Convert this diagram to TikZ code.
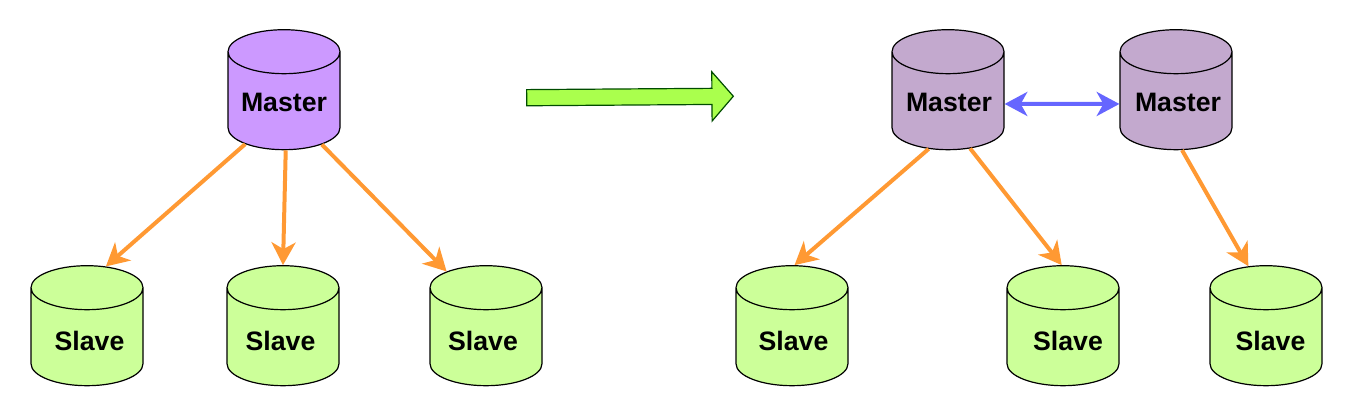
\documentclass[tikz,border=0pt]{standalone}
\usepackage{fontspec}
\setmainfont{Liberation Sans}
\usetikzlibrary{shapes.geometric,shapes.arrows,arrows.meta}
\definecolor{masterpurple}{HTML}{CC99FF}
\definecolor{mastergrey}{HTML}{C3A9CE}
\definecolor{slavegreen}{HTML}{CCFF99}
\definecolor{bigarrow}{HTML}{AAFF4D}
\definecolor{repl}{HTML}{FF9933}
\definecolor{sync}{HTML}{6666FF}
\newcommand{\dbtext}[3]{\makebox[66pt]{\hspace*{#1}\raisebox{#2}[0pt][0pt]{#3}}}
\tikzset{
    db/.style={cylinder, shape border rotate=90, aspect=0.5, draw=black, line width=0.9pt,
        minimum width=84pt, minimum height=90pt, inner sep=0pt, text height=14.3pt, text depth=0pt,
        font=\fontsize{20}{24}\bfseries},
    master/.style={db, fill=masterpurple},
    mastertwo/.style={db, fill=mastergrey},
    slave/.style={db, fill=slavegreen},
    replarrow/.style={draw=repl, line width=3pt, -{Stealth[length=17pt,width=18pt,inset=5pt]}},
    syncarrow/.style={draw=sync, line width=3pt, {Stealth[length=17pt,width=18pt,inset=5pt]}-{Stealth[length=17pt,width=18pt,inset=5pt]}}
}

\begin{document}
\begin{tikzpicture}
  [
    x = 0.75pt,
    y = -0.75pt,
  ]
  \useasboundingbox (0,0) rectangle (1353,417);
  % left side
  \node [master] (m1) at (284,101) {\dbtext{0pt}{-0.75pt}{Master}};
  \node [slave] (s1) at (87,337) {\dbtext{3.75pt}{-3pt}{Slave}};
  \node [slave] (s2) at (283,337) {\dbtext{-3.75pt}{-3pt}{Slave}};
  \node [slave] (s3) at (486,337) {\dbtext{-4.5pt}{-3pt}{Slave}};
  \draw [replarrow] (m1.-132) -- (s1.75);
  \draw [replarrow] (m1.-88) -- (s2.90);
  \draw [replarrow] (m1.-49) -- (s3.121);
  % middle
  \node [single arrow, draw=black!70!green, fill=bigarrow, line width=0.9pt, rotate=0.4,
    minimum height=155pt, inner xsep=0pt, inner ysep=5.6pt, single arrow head extend=12.4pt,
    single arrow head indent=0pt, single arrow tip angle=98] (go) at (626.5,97) {};
  % right side
  \node [mastertwo] (m2) at (948,101) {\dbtext{1.5pt}{-0.75pt}{Master}};
  \node [mastertwo] (m3) at (1176,101) {\dbtext{3pt}{-0.75pt}{Master}};
  \node [slave] (s4) at (792,337) {\dbtext{2.25pt}{-3pt}{Slave}};
  \node [slave] (s5) at (1063,337) {\dbtext{7.5pt}{-3pt}{Slave}};
  \node [slave] (s6) at (1266,337) {\dbtext{6.75pt}{-3pt}{Slave}};
  \draw [syncarrow] (m2.-3) -- (m3.-177);
  \draw [replarrow] (m2.-112) -- (s4.88);
  \draw [replarrow] (m2.-65) -- (s5.91);
  \draw [replarrow] (m3.-83) -- (s6.104);
\end{tikzpicture}
\end{document}
